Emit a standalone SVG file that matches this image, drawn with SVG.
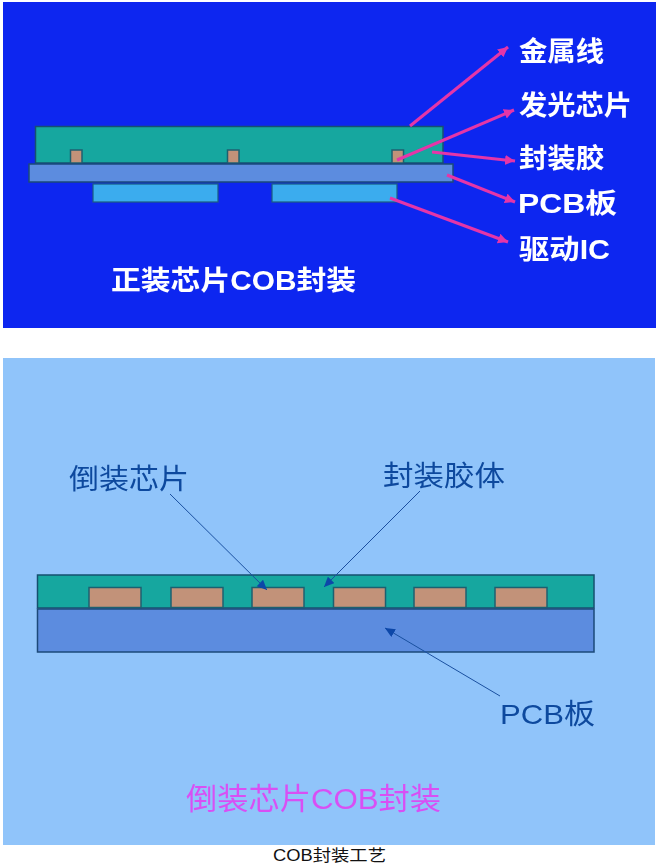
<svg xmlns="http://www.w3.org/2000/svg" width="658" height="866" viewBox="0 0 658 866">
<style>
text{font-family:"Liberation Sans","Noto Sans CJK SC",sans-serif}
.w{fill:#fff;font-weight:700;font-size:27.500px}
.d{fill:#0f4a9e;font-size:28px;font-weight:400}
.m{fill:#d850f4;font-size:30px;font-weight:400}
.cap{fill:#111;font-size:16px;font-weight:400}
.glue{fill:#13a79f;stroke:#15506f;stroke-width:1.5}
.pcb{fill:#5b8cdf;stroke:#1d4a7a;stroke-width:1.5}
.ic{fill:#3bacee;stroke:#1d5c80;stroke-width:1.2}
.chip{fill:#c29279;stroke:#1f6070;stroke-width:1.5}
.p{stroke:#e535a8;stroke-width:3;fill:none;marker-end:url(#pa)}
.b{stroke:#1a50a0;stroke-width:1;fill:none;marker-end:url(#ba)}
</style>
<defs>
<marker id="pa" markerUnits="userSpaceOnUse" markerWidth="12" markerHeight="12" refX="10" refY="5" orient="auto"><path d="M0 0L10 5L0 10Z" fill="#e535a8"/></marker>
<marker id="ba" markerUnits="userSpaceOnUse" markerWidth="12" markerHeight="10" refX="10" refY="4.5" orient="auto"><path d="M0 0L10 4.5L0 9Z" fill="#0a46a8"/></marker>
<filter id="soft" x="-5%" y="-5%" width="110%" height="110%"><feGaussianBlur stdDeviation="0.5"/></filter>
</defs>
<rect width="658" height="866" fill="#fff"/>
<g id="panel-top" filter="url(#soft)">
<rect x="3" y="2" width="653" height="326" fill="#1028f0"/>
<g id="glue-top"><rect class="glue" x="35.500" y="126.500" width="407.500" height="36.500"/></g>
<g id="chips-top">
<rect class="chip" x="70.500" y="150" width="11.500" height="13"/>
<rect class="chip" x="227.500" y="150" width="11.500" height="13"/>
<rect class="chip" x="392" y="150" width="11.500" height="13"/>
</g>
<g id="pcb-top"><rect class="pcb" x="29" y="164" width="424" height="18"/></g>
<g id="ic-top">
<rect class="ic" x="93" y="184" width="125" height="18"/>
<rect class="ic" x="272" y="184" width="125" height="18"/>
</g>
<g id="connectors-top">
<path class="p" d="M410 126L508 47"/>
<path class="p" d="M397 160L514 110"/>
<path class="p" d="M432 152L515 161"/>
<path class="p" d="M447 175L515 202"/>
<path class="p" d="M390 198L508 242"/>
</g>
<text class="w" x="519" y="61" textLength="85" lengthAdjust="spacingAndGlyphs">金属线</text>
<text class="w" x="519" y="115" textLength="113" lengthAdjust="spacingAndGlyphs">发光芯片</text>
<text class="w" x="519" y="168" textLength="85" lengthAdjust="spacingAndGlyphs">封装胶</text>
<text class="w" x="518" y="213" textLength="99" lengthAdjust="spacingAndGlyphs">PCB板</text>
<text class="w" x="519" y="259" textLength="91" lengthAdjust="spacingAndGlyphs">驱动IC</text>
<text class="w" x="111" y="290" textLength="245" lengthAdjust="spacingAndGlyphs">正装芯片COB封装</text>
</g>
<g id="panel-bottom" filter="url(#soft)">
<rect x="3" y="358" width="652" height="487" fill="#90c4fa"/>
<g id="glue-bottom"><rect class="glue" x="37.500" y="575" width="556.500" height="33"/></g>
<g id="chips-bottom">
<rect class="chip" x="89" y="587.500" width="52" height="20"/>
<rect class="chip" x="171" y="587.500" width="52" height="20"/>
<rect class="chip" x="252" y="587.500" width="52" height="20"/>
<rect class="chip" x="333.500" y="587.500" width="52" height="20"/>
<rect class="chip" x="414" y="587.500" width="52" height="20"/>
<rect class="chip" x="495" y="587.500" width="52" height="20"/>
</g>
<g id="pcb-bottom"><rect class="pcb" x="37.500" y="609" width="556.500" height="43"/></g>
<g id="connectors-bottom">
<path class="b" d="M170 494L267 590"/>
<path class="b" d="M420 491L324 587"/>
<path class="b" d="M500 696L385 628"/>
</g>
<text class="d" x="69" y="489" textLength="120" lengthAdjust="spacingAndGlyphs">倒装芯片</text>
<text class="d" x="383" y="486" textLength="122" lengthAdjust="spacingAndGlyphs">封装胶体</text>
<text class="d" x="500" y="724" textLength="95" lengthAdjust="spacingAndGlyphs">PCB板</text>
<text class="m" x="186" y="809" textLength="255" lengthAdjust="spacingAndGlyphs">倒装芯片COB封装</text>
</g>
<text id="caption" class="cap" x="273" y="861" textLength="113" lengthAdjust="spacingAndGlyphs">COB封装工艺</text>
</svg>
